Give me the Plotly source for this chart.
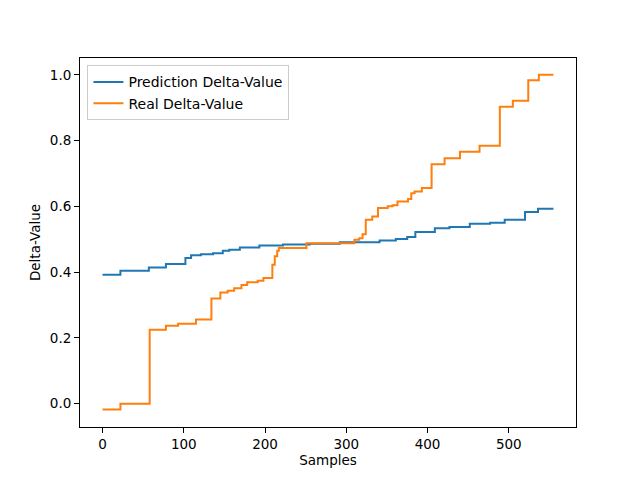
import plotly.graph_objects as go

# Step breakpoints (sample index where a new level starts) and levels
pred_x = [0, 22, 57, 78, 102, 109, 121, 136, 148, 156, 169, 193, 222, 255, 292,
          341, 361, 375, 385, 409, 427, 452, 477, 495, 520, 536, 555]
pred_y = [0.392, 0.404, 0.414, 0.425, 0.443, 0.451, 0.454, 0.457, 0.465, 0.468, 0.475,
          0.481, 0.484, 0.486, 0.491, 0.496, 0.501, 0.507, 0.522, 0.533, 0.537, 0.547,
          0.550, 0.559, 0.583, 0.593, 0.593]

real_x = [0, 22, 58, 78, 93, 115, 134, 145, 154, 162, 171, 178, 191, 198, 209, 212,
          215, 217, 251, 310, 316, 320, 324, 332, 339, 351, 357, 363, 376, 380, 384,
          393, 405, 421, 440, 464, 489, 505, 524, 537, 555]
real_y = [-0.018, 0.0, 0.225, 0.237, 0.243, 0.256, 0.320, 0.338, 0.343, 0.351, 0.361,
          0.369, 0.374, 0.382, 0.422, 0.448, 0.465, 0.473, 0.488, 0.498, 0.503, 0.515,
          0.559, 0.569, 0.595, 0.600, 0.603, 0.615, 0.622, 0.640, 0.645, 0.656, 0.728,
          0.746, 0.766, 0.784, 0.903, 0.921, 0.983, 1.0, 1.0]

font = dict(family="DejaVu Sans", size=13.5, color="black")

fig = go.Figure()
fig.add_trace(go.Scatter(x=pred_x, y=pred_y, mode="lines", line_shape="hv",
                         name="Prediction Delta-Value",
                         line=dict(color="#1f77b4", width=2)))
fig.add_trace(go.Scatter(x=real_x, y=real_y, mode="lines", line_shape="hv",
                         name="Real Delta-Value",
                         line=dict(color="#ff7f0e", width=2)))

axis_common = dict(showline=True, linecolor="black", linewidth=1, mirror=True,
                   ticks="outside", ticklen=5, tickcolor="black", showgrid=False,
                   zeroline=False, tickfont=font)
fig.update_xaxes(range=[-27.75, 582.75], tickvals=[0, 100, 200, 300, 400, 500],
                 title=dict(text="Samples", font=font, standoff=4), **axis_common)
fig.update_yaxes(range=[-0.071, 1.051], tickvals=[0.0, 0.2, 0.4, 0.6, 0.8, 1.0],
                 tickformat=".1f",
                 title=dict(text="Delta-Value", font=font, standoff=6), **axis_common)

fig.update_layout(
    width=640, height=480,
    margin=dict(l=80, r=64, t=58, b=53),
    plot_bgcolor="white", paper_bgcolor="white",
    font=font,
    legend=dict(x=0.015, y=0.98, xanchor="left", yanchor="top",
                bgcolor="rgba(255,255,255,0.8)", bordercolor="#cccccc", borderwidth=1,
                font=dict(family="DejaVu Sans", size=14, color="black"),
                tracegroupgap=0, itemwidth=30),
)

fig.write_html("out.html", config={"displayModeBar": False},
               post_script="document.body.style.margin='0';document.body.style.padding='0';")
